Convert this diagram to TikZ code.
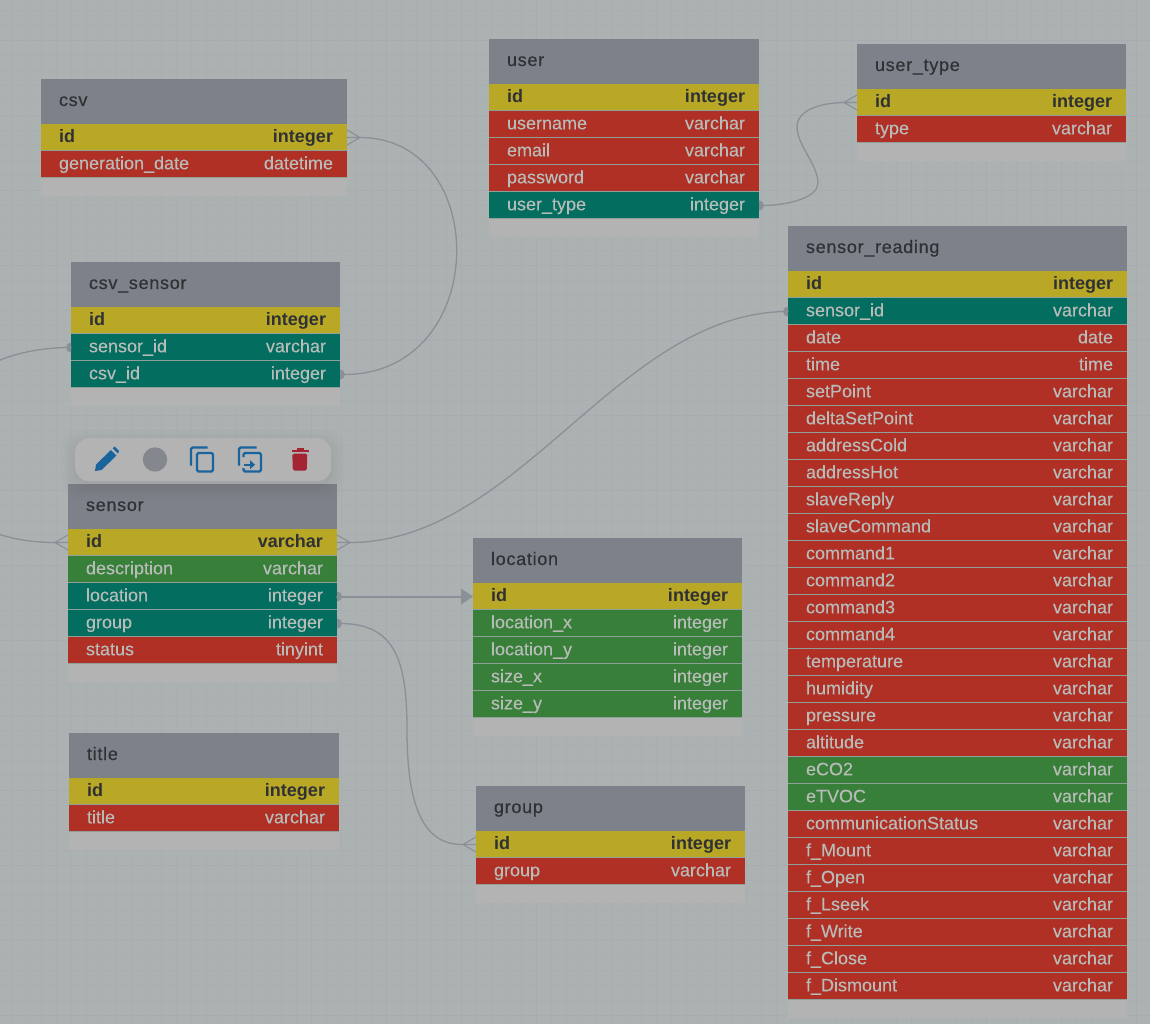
\documentclass[tikz,border=0pt]{standalone}
\usepackage{fontspec}
\setmainfont{Liberation Sans}
\newfontfamily\ttlfont[LetterSpace=4,FakeBold=0.4]{Liberation Sans}
\newfontfamily\rowfont[FakeBold=0.15]{Liberation Sans}
\newfontfamily\keyfont[BoldFont={Liberation Sans Bold}]{Liberation Sans Bold}
\usetikzlibrary{positioning}
\definecolor{bgc}{HTML}{ACB1B2}
\definecolor{gridminor}{HTML}{A9AEB2}
\definecolor{gridmajor}{HTML}{A7ACB3}
\definecolor{headc}{HTML}{7D8189}
\definecolor{footc}{HTML}{B3B3B3}
\definecolor{kcol}{HTML}{B8A825}
\definecolor{rcol}{HTML}{B03026}
\definecolor{gcol}{HTML}{38803A}
\definecolor{tcol}{HTML}{036E60}
\definecolor{darktxt}{HTML}{303134}
\definecolor{lighttxt}{HTML}{B8BCB9}
\definecolor{linkc}{HTML}{8B8F96}
\definecolor{iconb}{HTML}{1A649E}
\definecolor{iconr}{HTML}{A32433}
\definecolor{iconc}{HTML}{84888E}
\definecolor{barc}{HTML}{B3B3B3}
\definecolor{sepc}{HTML}{8FA09A}
\tikzset{
  x=1pt,y=-1pt,
  headbox/.style={draw=none,fill=headc,inner sep=0pt,outer sep=0pt,minimum height=45pt,anchor=north west},
  footbox/.style={draw=none,fill=footc,inner sep=0pt,outer sep=0pt,minimum height=18pt,anchor=north west},
  rowbox/.style={inner sep=0pt,outer sep=0pt,minimum height=27pt,anchor=north west},
  kstyle/.style={rowbox,fill=kcol},
  rstyle/.style={rowbox,fill=rcol},
  gstyle/.style={rowbox,fill=gcol},
  tstyle/.style={rowbox,fill=tcol},
  celltxt/.style={inner sep=0pt,outer sep=0pt},
  link/.style={draw=linkc,line width=1.3pt,line cap=round},
  toolbar/.style={fill=barc,rounded corners=14pt,draw=none},
  dotend/.style={fill=linkc,draw=none},
  icoline/.style={draw=iconb,line width=2.3pt,fill=none},
}
\newcounter{rowno}
\newcommand{\dbtable}[6]{%
  \node[headbox,minimum width=#5pt] (#1) at (#3,#4) {};
  \node[inner sep=0pt,outer sep=0pt,text=darktxt,font=\ttlfont\fontsize{18}{18}\selectfont,anchor=base west] (#1-title) at ([xshift=18pt,yshift=-27pt]#1.north west) {#2};
  \setcounter{rowno}{0}%
  \foreach \k/\f/\t in {#6}{%
    \pgfmathtruncatemacro{\ry}{#4+45+27*\therowno}%
    \stepcounter{rowno}%
    \pgfmathtruncatemacro{\rn}{\therowno}%
    \edef\tc{\if k\k darktxt\else lighttxt\fi}%
    \def\cf{\rowfont}\if k\k\def\cf{\keyfont}\fi
    \node[\k style,minimum width=#5pt] (#1-\rn) at (#3,\ry) {};
    \draw[sepc,line width=.7pt] ([yshift=.4pt]#1-\rn.south west) -- ([yshift=.4pt]#1-\rn.south east);
    \node[celltxt,text=\tc,anchor=base west,font=\cf\fontsize{18}{18}\selectfont] (#1-\rn-f) at ([xshift=18pt,yshift=-18.3pt]#1-\rn.north west) {\f};
    \node[celltxt,text=\tc,anchor=base east,font=\cf\fontsize{18}{18}\selectfont] (#1-\rn-t) at ([xshift=-14pt,yshift=-18.3pt]#1-\rn.north east) {\t};
    \xdef\lastrow{#1-\rn}%
  }
  \node[footbox,minimum width=#5pt] (#1-foot) at (\lastrow.south west) {};
}
\newcommand{\crow}[2]{%
  \draw[link,line width=1.1pt] ([xshift=#2*13pt]#1) -- ([yshift=-7.5pt]#1) ([xshift=#2*13pt]#1) -- ([yshift=7.5pt]#1) ([xshift=#2*13pt]#1) -- (#1);
}
\begin{document}
\begin{tikzpicture}
\useasboundingbox (0,0) rectangle (1150,1024);
\clip (0,0) rectangle (1150,1024);
\fill[bgc] (0,0) rectangle (1150,1024);
\foreach \gx in {11,26,...,1150}{\draw[gridminor,line width=.8pt] (\gx,0) -- (\gx,1024);}
\foreach \gy in {10,25,...,1024}{\draw[gridminor,line width=.8pt] (0,\gy) -- (1150,\gy);}
\foreach \gx in {11,86,...,1150}{\draw[gridmajor,line width=.8pt] (\gx,0) -- (\gx,1024);}
\foreach \gy in {40,115,...,1024}{\draw[gridmajor,line width=.8pt] (0,\gy) -- (1150,\gy);}

\dbtable{csv}{csv}{41}{79}{306}{k/id/integer,r/generation\_date/datetime}
\dbtable{csvs}{csv\_sensor}{71}{262}{269}{k/id/integer,t/sensor\_id/varchar,t/csv\_id/integer}
\dbtable{user}{user}{489}{39}{270}{k/id/integer,r/username/varchar,r/email/varchar,r/password/varchar,t/user\_type/integer}
\dbtable{utype}{user\_type}{857}{44}{269}{k/id/integer,r/type/varchar}
\dbtable{reading}{sensor\_reading}{788}{226}{339}{k/id/integer,t/sensor\_id/varchar,r/date/date,r/time/time,r/setPoint/varchar,r/deltaSetPoint/varchar,r/addressCold/varchar,r/addressHot/varchar,r/slaveReply/varchar,r/slaveCommand/varchar,r/command1/varchar,r/command2/varchar,r/command3/varchar,r/command4/varchar,r/temperature/varchar,r/humidity/varchar,r/pressure/varchar,r/altitude/varchar,g/eCO2/varchar,g/eTVOC/varchar,r/communicationStatus/varchar,r/f\_Mount/varchar,r/f\_Open/varchar,r/f\_Lseek/varchar,r/f\_Write/varchar,r/f\_Close/varchar,r/f\_Dismount/varchar}
\dbtable{sensor}{sensor}{68}{484}{269}{k/id/varchar,g/description/varchar,t/location/integer,t/group/integer,r/status/tinyint}
\dbtable{loc}{location}{473}{538}{269}{k/id/integer,g/location\_x/integer,g/location\_y/integer,g/size\_x/integer,g/size\_y/integer}
\dbtable{title}{title}{69}{733}{270}{k/id/integer,r/title/varchar}
\dbtable{grp}{group}{476}{786}{269}{k/id/integer,r/group/varchar}

% connectors
\draw[link] ([xshift=13pt]csv-1.east) .. controls +(132,0) and +(147,0) .. ([xshift=4pt]csvs-3.east);
\crow{csv-1.east}{1}
\fill[dotend] (csvs-3.east) ++(0,-5) arc[start angle=90,end angle=-90,radius=5pt] -- cycle;

\draw[link] ([xshift=2pt]user-5.east) .. controls +(29,0) and (818,197) .. (818,183) .. controls (818,165) and (797,145) .. (797,127) .. controls (797,110) and (820,103) .. ([xshift=-13pt]utype-1.west);
\crow{utype-1.west}{-1}
\fill[dotend] (user-5.east) ++(0,-5) arc[start angle=90,end angle=-90,radius=5pt] -- cycle;

\draw[link] ([xshift=13pt]sensor-1.east) .. controls (520,542) and (618,312) .. (reading-2.west);
\crow{sensor-1.east}{1}
\fill[dotend] (reading-2.west) ++(0,-5) arc[start angle=90,end angle=270,radius=5pt] -- cycle;

\draw[link] (csvs-2.west) .. controls +(-178,0) and (-120,542) .. ([xshift=-13pt]sensor-1.west);
\crow{sensor-1.west}{-1}
\fill[dotend] (csvs-2.west) ++(0,-5) arc[start angle=90,end angle=270,radius=5pt] -- cycle;

\draw[link,line width=2pt] (sensor-3.east) -- ([xshift=-12pt]loc-1.west);
\fill[dotend] (loc-1.west) -- ++(-12,-8) -- ++(0,16) -- cycle;
\fill[dotend] (sensor-3.east) ++(0,-5) arc[start angle=90,end angle=-90,radius=5pt] -- cycle;

\draw[link] ([xshift=3pt]sensor-4.east) .. controls +(55,0) and (407,660) .. (407,730) .. controls (407,810) and (425,845) .. ([xshift=-13pt]grp-1.west);
\crow{grp-1.west}{-1}
\fill[dotend] (sensor-4.east) ++(0,-5) arc[start angle=90,end angle=-90,radius=5pt] -- cycle;

% toolbar
\foreach \d/\o in {14/.006,11/.008,8/.01,5/.012,2/.014}{\fill[black,opacity=\o,rounded corners=18pt] (75-\d,438-\d+5) rectangle (331+\d,481+\d+5);}
\node[toolbar,minimum width=256pt,minimum height=43pt,inner sep=0pt,anchor=north west] (bar) at (75,438) {};
% pencil
\fill[iconb] (95,471) -- (96,464.5) -- (111,450) -- (116.5,455.5) -- (101.5,470) -- cycle;
\fill[iconb] (112.8,448.3) -- (114.8,446.5) -- (119,451) -- (118,453.6) -- cycle;
% circle
\fill[iconc] (155,459.5) circle[radius=12.2pt];
% copy
\draw[icoline,rounded corners=1.5pt] (191,465.5) -- (191,447.5) -- (207.5,447.5);
\draw[icoline,rounded corners=1.5pt] (197,453) rectangle (213,471.5);
% copy-in
\draw[icoline,rounded corners=1.5pt] (239,465.5) -- (239,447.5) -- (256.5,447.5);
\draw[icoline,rounded corners=1.5pt] (243.5,457) -- (243.5,453) -- (261,453) -- (261,471.5) -- (243.5,471.5) -- (243.5,468);
\draw[iconb,line width=2pt] (244,464.7) -- (251,464.7);
\fill[iconb] (255,464.7) -- (250,460.2) -- (250,469.2) -- cycle;
% trash
\fill[iconr,rounded corners=1.5pt] (292.3,453.7) -- (307.3,453.7) -- (306.8,470.5) -- (292.8,470.5) -- cycle;
\fill[iconr] (291.5,449.6) rectangle (308.5,452.2);
\fill[iconr] (296.5,448) rectangle (303.5,450);
\end{tikzpicture}
\end{document}
